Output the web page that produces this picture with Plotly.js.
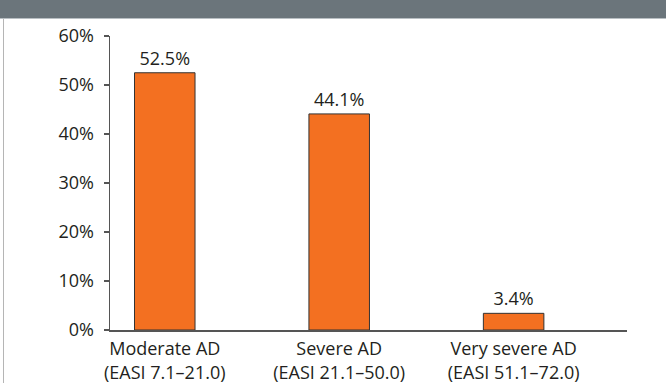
<!DOCTYPE html>
<html>
<head>
<meta charset="utf-8">
<script src="https://cdn.plot.ly/plotly-3.0.1.min.js"></script>
<style>
  html, body { margin: 0; padding: 0; background: #ffffff; }
  #wrap { position: relative; width: 666px; height: 383px; overflow: hidden; }
  #chart { position: absolute; left: 0; top: 0; width: 666px; height: 383px; }
  #header { position: absolute; left: 0; top: 0; width: 666px; height: 18px; background: #6b757b; z-index: 5; }
  #headerline { position: absolute; left: 0; top: 18px; width: 666px; height: 1px; background: #b9bfc3; z-index: 5; }
  #leftborder { position: absolute; left: 3px; top: 19px; width: 1px; height: 364px; background: #b5b5b5; z-index: 5; }
</style>
</head>
<body>
<div id="wrap">
  <div id="chart"></div>
  <div id="header"></div>
  <div id="headerline"></div>
  <div id="leftborder"></div>
</div>
<script>
const categories = ["Moderate AD<br>(EASI 7.1–21.0)", "Severe AD<br>(EASI 21.1–50.0)", "Very severe AD<br>(EASI 51.1–72.0)"];
const values = [52.5, 44.1, 3.4];
const valueLabels = ["52.5%", "44.1%", "3.4%"];
const yTickVals = [0, 10, 20, 30, 40, 50, 60];
const yTickText = ["0%", "10%", "20%", "30%", "40%", "50%", "60%"];

const font = "'Open Sans', 'Noto Sans', sans-serif";

const trace = {
  type: "bar",
  x: [0, 1, 2],
  y: values,
  text: valueLabels,
  textposition: "outside",
  texttemplate: "%{text}",
  cliponaxis: false,
  textfont: { family: font, size: 18, color: "#231f20" },
  width: 0.347,
  marker: { color: "#f37021", line: { color: "#333333", width: 1 } },
  hoverinfo: "none"
};

const layout = {
  width: 666,
  height: 383,
  margin: { l: 110, r: 39, t: 35.5, b: 52.5, pad: 0 },
  paper_bgcolor: "rgba(0,0,0,0)",
  plot_bgcolor: "rgba(0,0,0,0)",
  showlegend: false,
  font: { family: font, size: 18, color: "#231f20" },
  xaxis: {
    range: [-0.314, 2.65],
    tickmode: "array",
    tickvals: [0, 1, 2],
    ticktext: categories,
    ticks: "",
    showline: true,
    linecolor: "#555555",
    linewidth: 1.5,
    showgrid: false,
    zeroline: false,
    ticklabelstandoff: 2,
    tickfont: { family: font, size: 18, color: "#231f20" },
    fixedrange: true
  },
  yaxis: {
    range: [0, 60],
    tickmode: "array",
    tickvals: yTickVals,
    ticktext: yTickText,
    ticks: "outside",
    ticklen: 5,
    tickwidth: 1.5,
    tickcolor: "#555555",
    showline: true,
    linecolor: "#555555",
    linewidth: 1.5,
    showgrid: false,
    zeroline: false,
    ticklabelstandoff: 6,
    tickfont: { family: font, size: 18, color: "#231f20" },
    fixedrange: true
  }
};

Plotly.newPlot("chart", [trace], layout, { displayModeBar: false, staticPlot: true });
</script>
</body>
</html>
